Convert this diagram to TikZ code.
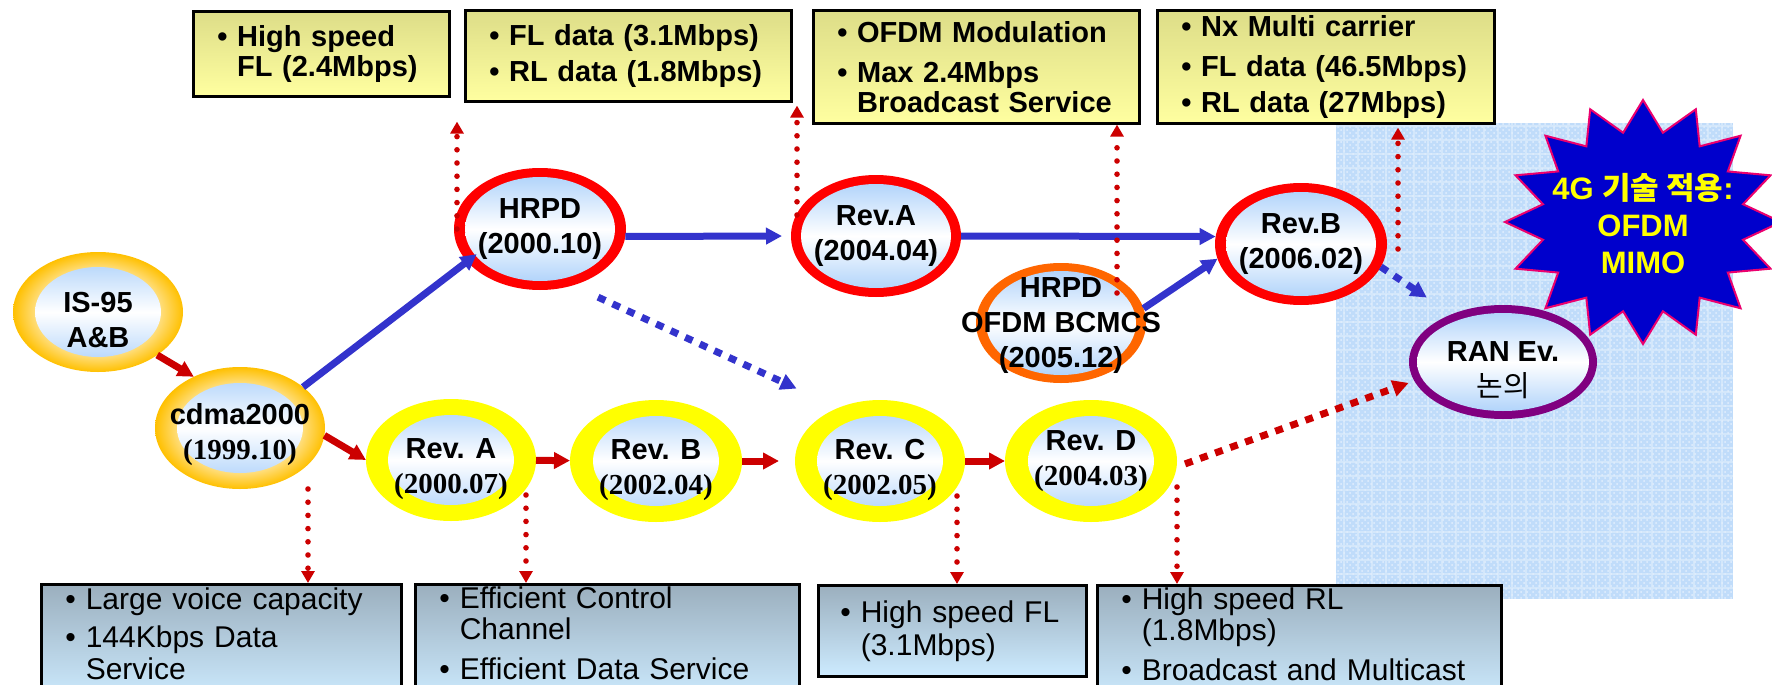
\documentclass[tikz,border=0pt]{standalone}
\usepackage{fontspec}
\setmainfont{Liberation Sans}
\newfontfamily\tms{Liberation Serif}
\newfontfamily\kor{Noto Sans CJK KR}
\usetikzlibrary{arrows.meta, shapes.geometric, patterns}

\definecolor{gold}{RGB}{255,192,0}
\definecolor{goldlt}{RGB}{255,228,150}
\definecolor{ringyel}{RGB}{255,255,0}
\definecolor{ringred}{RGB}{255,0,0}
\definecolor{ringorg}{RGB}{255,102,0}
\definecolor{ringpur}{RGB}{128,0,128}
\definecolor{skyin}{RGB}{165,205,250}
\definecolor{arrblue}{RGB}{51,51,204}
\definecolor{arrred}{RGB}{204,0,0}
\definecolor{boxtop}{RGB}{221,221,136}
\definecolor{boxbot}{RGB}{255,255,160}
\definecolor{slatetop}{RGB}{155,175,190}
\definecolor{slatebot}{RGB}{205,235,255}
\definecolor{haze}{RGB}{192,220,250}
\definecolor{starblue}{RGB}{0,0,204}
\definecolor{starrim}{RGB}{235,0,110}

\pgfdeclareradialshading{goldrim}{\pgfpoint{0bp}{0bp}}{color(0bp)=(goldlt); color(17bp)=(goldlt); color(25bp)=(gold); color(50bp)=(gold)}

\newcommand{\blt}{\textbullet\ }
\newcommand{\hng}{\hphantom{\textbullet\ }}

\tikzset{
  bub/.style={ellipse, inner sep=0pt, outer sep=0pt, minimum width=86pt, minimum height=61pt},
  eye/.style 2 args={path picture={\shade[top color=skyin, bottom color=skyin, middle color=white]
      (path picture bounding box.center) ellipse [x radius=#1, y radius=#2];}},
  goldbub/.style={bub, shade, shading=goldrim, eye={31.5pt}{22.5pt}},
  yelbub/.style={bub, fill=ringyel, eye={31.5pt}{22.5pt}},
  redbub/.style={bub, fill=ringred, eye={37.5pt}{26pt}},
  orgbub/.style={bub, fill=ringorg, eye={37.5pt}{26pt}, minimum width=85pt, minimum height=60pt},
  purbub/.style={bub, fill=ringpur, eye={43pt}{24.5pt}, minimum width=94pt, minimum height=57pt},
  btxt/.style={align=center, font=\bfseries\fontsize{14.5}{17.5}\selectfont},
  topbox/.style={draw, line width=1.3pt, top color=boxtop, bottom color=boxbot, anchor=north west,
    inner xsep=12pt, inner ysep=0pt, align=left, font=\bfseries\fontsize{14.5}{15}\selectfont},
  lowbox/.style={draw, line width=1.3pt, top color=slatetop, bottom color=slatebot, anchor=north west,
    inner xsep=12pt, inner ysep=0pt, align=left, font=\fontsize{15}{15.5}\selectfont},
  fat/.style={line width=3.5pt, -{Triangle[length=8pt,width=8pt]}},
  solidb/.style={fat, arrblue},
  solidr/.style={fat, arrred},
  squares/.style={fat, dash pattern=on 4pt off 4pt},
  dots/.style={arrred, line width=2.8pt, line cap=round, dash pattern=on 0pt off 6.6pt,
    -{Triangle[length=6pt,width=6.5pt]}},
}

\begin{document}
\begin{tikzpicture}[x=0.5pt, y=-0.5pt]
\useasboundingbox (0,0) rectangle (1772,685);

% textured area on the right
\fill[haze] (1336,123) rectangle (1733,599);
\draw[white!30!haze, step=7pt, line width=0.6pt] (1336,123) grid (1733,599);
\fill[pattern=crosshatch dots, pattern color=white!55!haze] (1336,123) rectangle (1733,599);

% feature boxes, top row
\node[topbox, text width=104pt, minimum height=42.5pt] (hs) at (192,10) {\blt High speed\\\hng FL (2.4Mbps)};
\node[topbox, text width=139pt, minimum height=45.5pt] (fr) at (464,9) {\blt FL data (3.1Mbps)\\[3pt]\blt RL data (1.8Mbps)};
\node[topbox, text width=139pt, minimum height=56.5pt] (om) at (812,9) {\blt OFDM Modulation\\[5pt]\blt Max 2.4Mbps\\\hng Broadcast Service};
\node[topbox, text width=144.5pt, minimum height=56.5pt] (nx) at (1156,9) {\blt Nx Multi carrier\\[5pt]\blt FL data (46.5Mbps)\\[3pt]\blt RL data (27Mbps)};

% feature boxes, bottom row (running off the lower edge)
\node[lowbox, text width=156pt, minimum height=58.5pt] (lv) at (40,583) {\blt Large voice capacity\\[3.5pt]\blt 144Kbps Data\\[0.5pt]\hng Service\\[-6pt]\mbox{}};
\node[lowbox, text width=168pt, minimum height=58.5pt] (ec) at (414,583) {\blt Efficient Control\\\hng Channel\\[4.5pt]\blt Efficient Data Service\\[-6pt]\mbox{}};
\node[lowbox, text width=112pt, minimum height=45.5pt, inner xsep=11pt] (hf) at (817,584) {\blt High speed FL\\[1pt]\hng (3.1Mbps)};
\node[lowbox, text width=178pt, minimum height=58.5pt] (hr) at (1096,584) {\blt High speed RL\\\hng (1.8Mbps)\\[4.5pt]\blt Broadcast and Multicast\\[-6pt]\mbox{}};

% releases
\node[goldbub, minimum width=85pt, minimum height=60pt, label={[btxt, yshift=-4pt]center:IS-95\\A\&B}] (is95) at (98,312) {};
\node[goldbub, minimum width=85pt, label={[btxt, yshift=-3.5pt]center:cdma2000\\{\tms(1999.10)}}] (cdma) at (240,428) {};
\node[yelbub, minimum width=85pt, label={[btxt, yshift=-4.5pt]center:Rev. A\\{\tms(2000.07)}}] (reva) at (451,460) {};
\node[yelbub, label={[btxt, yshift=-4.5pt]center:Rev. B\\{\tms(2002.04)}}] (revb) at (656,461) {};
\node[yelbub, minimum width=85pt, label={[btxt, yshift=-4.5pt]center:Rev. C\\{\tms(2002.05)}}] (revc) at (880,461) {};
\node[yelbub, label={[btxt]center:Rev. D\\{\tms(2004.03)}}] (revd) at (1091,461) {};
\node[redbub, label={[btxt]center:HRPD\\(2000.10)}] (hrpd) at (540,229) {};
\node[redbub, minimum width=85pt, label={[btxt]center:Rev.A\\(2004.04)}] (ra) at (876,236) {};
\node[redbub, label={[btxt]center:Rev.B\\(2006.02)}] (rb) at (1301,244) {};
\node[orgbub, label={[btxt, yshift=-1.5pt]center:HRPD\\OFDM BCMCS\\(2005.12)}] (bcmcs) at (1061,323) {};
\node[purbub, label={[btxt, yshift=-4pt]center:RAN Ev.\\{\kor\mdseries 논의}}] (ran) at (1503,362) {};

% 4G burst
\filldraw[fill=starblue, draw=starrim, line width=1pt]
  plot[samples at={0,11.25,...,348.75}]
  ({1643+(138-36*mod(round(\x/11.25),2))*cos(\x)}, {222+(122-31*mod(round(\x/11.25),2))*sin(\x)}) -- cycle;
\node[align=center, text=ringyel, font=\bfseries\fontsize{15.5}{18.5}\selectfont] (g4) at (1643,224)
  {4G {\kor 기술 적용}:\\OFDM\\MIMO};

% evolution paths
\draw[solidr] (is95.-36) -- (cdma.132);
\draw[solidr] (cdma.-5) -- (reva.180);
\draw[solidr] (reva) -- (revb);
\draw[solidr, shorten >=8pt] (revb) -- (revc);
\draw[solidr] (revc) -- (revd);
\draw[solidb, shorten >=-6pt] (cdma.33) -- (hrpd.204);
\draw[solidb, shorten >=4.5pt] (hrpd.-5) -- (ra.west);
\draw[solidb] (ra.east) -- (rb.175);
\draw[solidb] (bcmcs.10) -- (rb.190);
\draw[squares, arrblue, shorten <=14pt, shorten >=23pt] (hrpd.-60) -- (revc.128);
\draw[squares, arrblue, shorten >=15pt] (rb.-16) -- (ran.137);
\draw[squares, arrred, shorten <=4.5pt, shorten >=3pt] (revd.-4) -- (ran.192);

% links to the feature boxes
\draw[dots] ([xshift=34pt]cdma.south) -- ([xshift=34pt]cdma.south |- lv.north);
\draw[dots] ([xshift=37.5pt,yshift=13pt]reva.south) -- ([xshift=37.5pt]reva.south |- ec.north);
\draw[dots] ([xshift=38.5pt,yshift=13pt]revc.south) -- ([xshift=38.5pt]revc.south |- hf.north);
\draw[dots] ([yshift=-13pt]revd.east) -- (revd.east |- hr.north);
\draw[dots, shorten >=12pt] ([xshift=1.5pt]hrpd.west) -- ([xshift=1.5pt]hrpd.west |- hs.south);
\draw[dots, shorten >=1.5pt] ([xshift=3pt,yshift=10.5pt]ra.west) -- ([xshift=3pt]ra.west |- fr.south);
\draw[dots] ([xshift=28pt,yshift=15pt]bcmcs.center) -- ([xshift=28pt]bcmcs.center |- om.south);
\draw[dots, shorten >=1.5pt] ([xshift=5.5pt,yshift=-2.5pt]rb.east) -- ([xshift=5.5pt]rb.east |- nx.south);
\end{tikzpicture}
\end{document}
